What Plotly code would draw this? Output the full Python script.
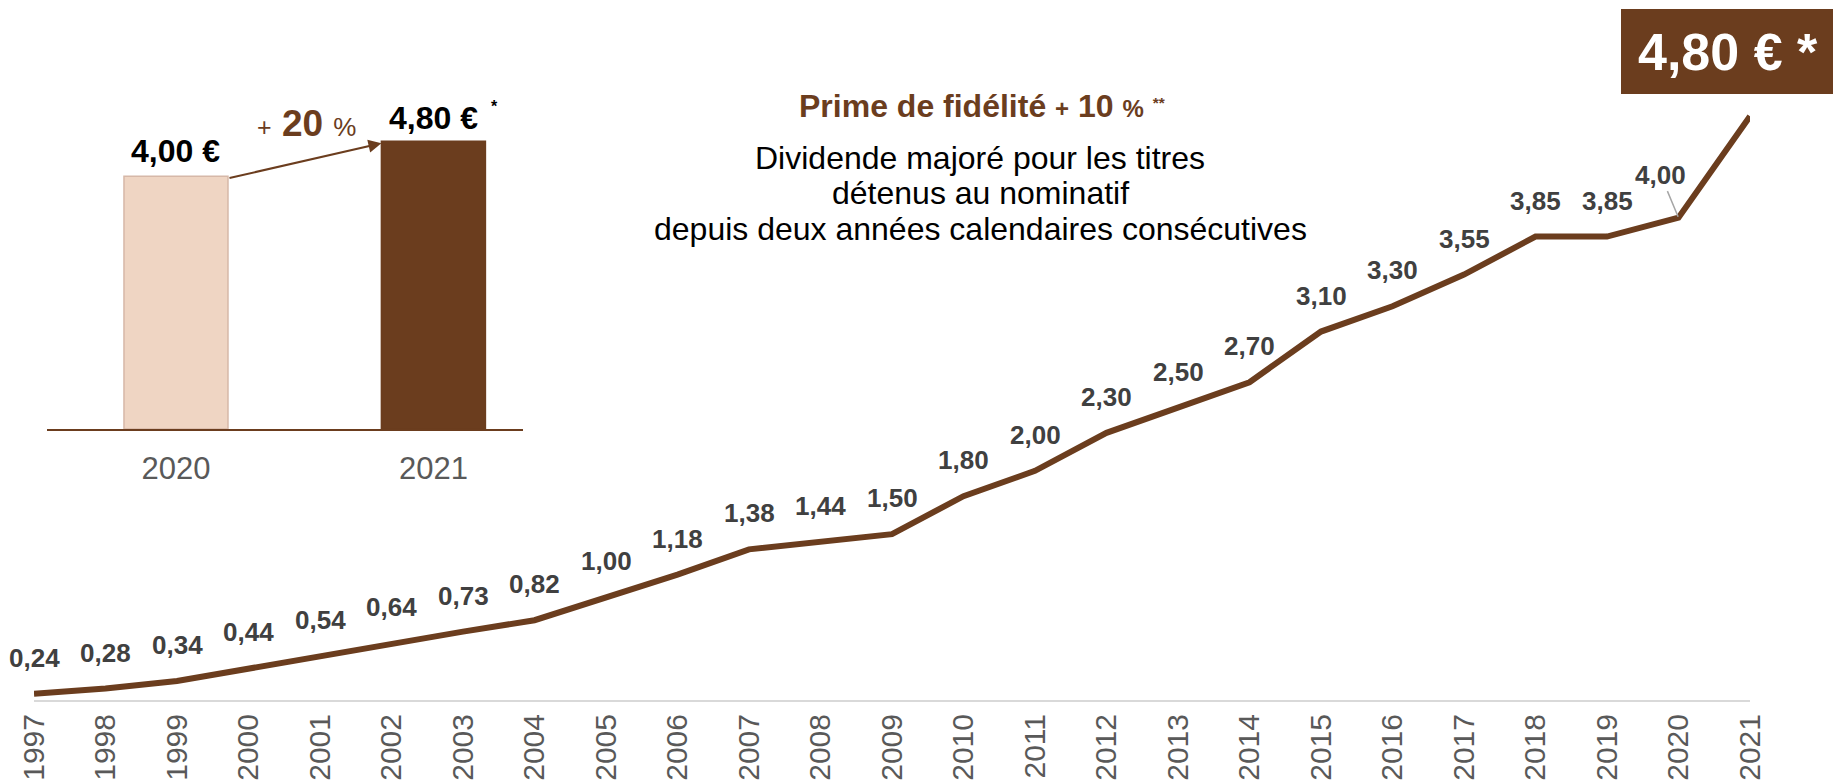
import plotly.graph_objects as go

# ---------------- data ----------------
years = list(range(1997, 2022))
dividends = [0.24, 0.28, 0.34, 0.44, 0.54, 0.64, 0.73, 0.82, 1.00, 1.18, 1.38, 1.44,
             1.50, 1.80, 2.00, 2.30, 2.50, 2.70, 3.10, 3.30, 3.55, 3.85, 3.85, 4.00, 4.80]
year_labels = [str(y) for y in years]

inset_years = [2020, 2021]
inset_values = [4.00, 4.80]
inset_labels = ["4,00 €", "4,80 €"]

# ---------------- style ----------------
BROWN = "#6B3D1E"
PEACH = "#EFD5C3"
PEACH_LINE = "#D6B8A8"
LABEL_GREY = "#404040"
TICK_GREY = "#595959"
FONT = "Arial, Liberation Sans, sans-serif"

W, H = 1833, 782
PL, PR, PT, PB = 34, 1750, 91, 700  # plot area in pixels


def px(x, y):
    """pixel -> paper coordinates"""
    return (x - PL) / (PR - PL), (PB - y) / (PB - PT)


def fmt(v):
    return f"{v:.2f}".replace(".", ",")


fig = go.Figure()

# main line
fig.add_trace(go.Scatter(
    x=years, y=dividends, mode="lines",
    line=dict(color=BROWN, width=6), hoverinfo="skip", showlegend=False,
    xaxis="x", yaxis="y"))

# inset bars
BAR_W = 0.404
INSET_BASE = -1.78
fig.add_trace(go.Bar(
    x=inset_years, y=[v - INSET_BASE for v in inset_values], base=INSET_BASE,
    width=BAR_W, marker=dict(color=[PEACH, BROWN],
                             line=dict(color=[PEACH_LINE, BROWN], width=1.5)),
    hoverinfo="skip", showlegend=False, xaxis="x2", yaxis="y2"))

C = dict(xanchor="center", yanchor="middle")
annotations = []
# data labels on main line
for yr, v in zip(years[:-2], dividends[:-2]):
    annotations.append(dict(x=yr, y=v, xref="x", yref="y", text=f"<b>{fmt(v)}</b>",
                            showarrow=False, yshift=36, **C,
                            font=dict(size=26, color=LABEL_GREY, family=FONT)))
# 2020 label with leader line
annotations.append(dict(x=years[-2], y=dividends[-2], xref="x", yref="y",
                        text=f"<b>{fmt(dividends[-2])}</b>", showarrow=True,
                        arrowhead=0, arrowwidth=1.5, arrowcolor="#A6A6A6",
                        ax=-18, ay=-43, standoff=1,
                        font=dict(size=26, color=LABEL_GREY, family=FONT)))

# inset labels
annotations.append(dict(x=inset_years[0], y=inset_values[0], xref="x2", yref="y2",
                        text=f"<b>{inset_labels[0]}</b>", showarrow=False, yshift=25, **C,
                        font=dict(size=32, color="black", family=FONT)))
annotations.append(dict(x=inset_years[1], y=inset_values[1], xref="x2", yref="y2",
                        text=f"<b>{inset_labels[1]}</b>", showarrow=False, yshift=23, **C,
                        font=dict(size=32, color="black", family=FONT)))
annotations.append(dict(x=inset_years[1], y=inset_values[1], xref="x2", yref="y2",
                        text="<b>*</b>", showarrow=False, yshift=35, xshift=61, **C,
                        font=dict(size=16, color="black", family=FONT)))
# inset arrow
annotations.append(dict(x=inset_years[1] - BAR_W / 2, y=inset_values[1] - 0.05,
                        xref="x2", yref="y2", axref="x2", ayref="y2",
                        ax=inset_years[0] + BAR_W / 2, ay=inset_values[0] - 0.05,
                        text="", showarrow=True, arrowhead=2, arrowsize=1.3,
                        arrowwidth=2, arrowcolor=BROWN))
# + 20 %
annotations.append(dict(x=0.546, y=0.93, xref="x2 domain", yref="y2 domain",
                        text='<span style="font-size:25px">+</span> <b>20</b> '
                             '<span style="font-size:26px">%</span>',
                        showarrow=False, **C,
                        font=dict(size=37, color=BROWN, family=FONT)))

# headline text
tx, ty = px(982, 106)
annotations.append(dict(x=tx, y=ty, xref="paper", yref="paper",
                        text='<b>Prime de fidélité <span style="font-size:24px">+</span> 10 '
                             '<span style="font-size:24px">%</span></b> '
                             '<span style="font-size:22px"><sup><b>**</b></sup></span>',
                        showarrow=False, **C,
                        font=dict(size=32, color=BROWN, family=FONT)))
body = ["Dividende majoré pour les titres", "détenus au nominatif",
        "depuis deux années calendaires consécutives"]
for line, yy in zip(body, [158, 193, 229]):
    bx, by = px(980, yy)
    annotations.append(dict(x=bx, y=by, xref="paper", yref="paper", text=line,
                            showarrow=False, **C,
                            font=dict(size=32, color="black", family=FONT)))

# big value box
bx, by = px(1728, 52)
annotations.append(dict(x=bx, y=by, xref="paper", yref="paper",
                        text="<b>4,80 € *</b>", showarrow=False, **C,
                        font=dict(size=52, color="white", family=FONT)))
x0, y0 = px(1621, 94)
x1, y1 = px(1840, 9)
shapes = [dict(type="rect", xref="paper", yref="paper", x0=x0, x1=x1, y0=y0, y1=y1,
               fillcolor=BROWN, line=dict(width=0), layer="below")]

# inset domain
ix0, iy0 = px(47, 429)
ix1, iy1 = px(523, 100)

fig.update_layout(
    width=W, height=H,
    margin=dict(l=PL, r=W - PR, t=PT, b=H - PB, pad=0, autoexpand=False),
    paper_bgcolor="white", plot_bgcolor="white",
    font=dict(family=FONT),
    showlegend=False,
    xaxis=dict(range=[1997, 2021], tickmode="array", tickvals=years, ticktext=year_labels,
               tickangle=-90, tickfont=dict(size=30, color=TICK_GREY, family=FONT),
               showgrid=False, zeroline=False, showline=True, linecolor="#D9D9D9",
               linewidth=2, ticks="", ticklabelstandoff=0, automargin=False,
               fixedrange=True),
    yaxis=dict(range=[0.19, 5.0], visible=False, fixedrange=True, automargin=False),
    xaxis2=dict(domain=[ix0, ix1], anchor="y2", range=[2019.499, 2021.348],
                tickmode="array", tickvals=inset_years, ticktext=[str(y) for y in inset_years],
                tickfont=dict(size=31, color=TICK_GREY, family=FONT),
                showgrid=False, zeroline=False, showline=True, linecolor=BROWN,
                linewidth=2, ticks="", ticklabelstandoff=11, automargin=False,
                fixedrange=True),
    yaxis2=dict(domain=[iy0, iy1], anchor="x2", range=[INSET_BASE, 5.74],
                visible=False, fixedrange=True, automargin=False),
    annotations=annotations, shapes=shapes,
)

fig.write_html("out.html", config={"displayModeBar": False},
               post_script="document.body.style.margin='0';"
                           "document.body.style.overflow='hidden';")
